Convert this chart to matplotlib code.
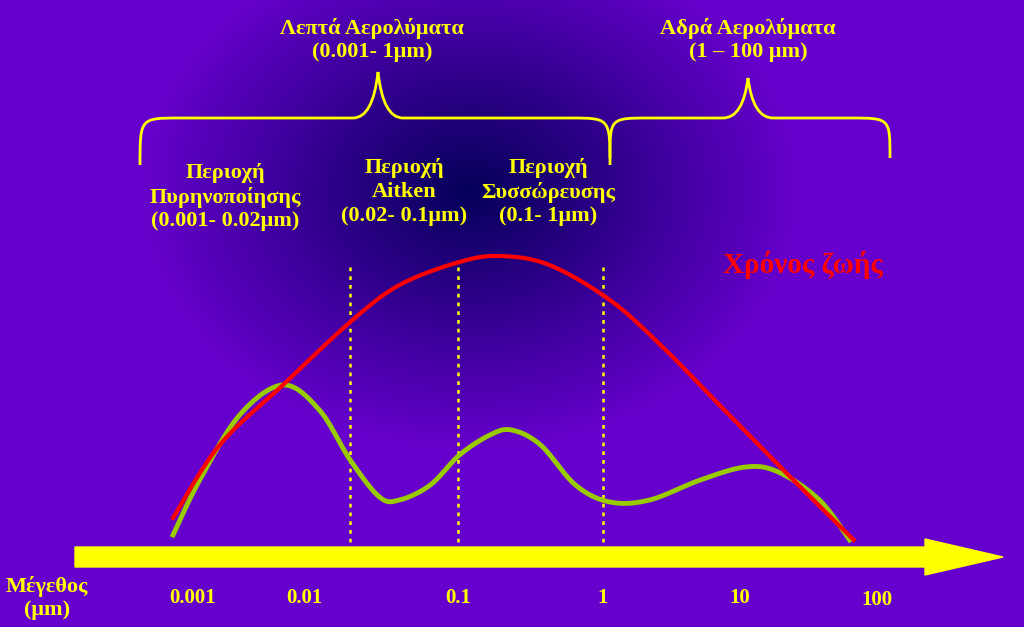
import numpy as np
import matplotlib
matplotlib.use("Agg")
import matplotlib.pyplot as plt
from matplotlib.path import Path
from matplotlib.patches import PathPatch, FancyArrow

# ---- data ----
tick_sizes = [0.001, 0.01, 0.1, 1, 10, 100]
tick_labels = ["0.001", "0.01", "0.1", "1", "10", "100"]
tick_px = [193, 304, 458, 603, 740, 877]
boundaries = [0.02, 0.1, 1]
green_logsize = [-3.18, -2.94, -2.58, -2.19, -1.90, -1.70, -1.51, -1.38, -1.18, -0.99, -0.78, -0.63,
                 -0.43, -0.19, 0.05, 0.34, 0.71, 1.04, 1.28, 1.58, 1.80]
green_level = [535, 480, 415, 385, 410, 460, 497, 500, 485, 455, 435, 430, 445, 485, 502, 500, 480,
               467, 472, 500, 540]
red_logsize = [-3.18, -2.76, -2.19, -1.70, -1.38, -0.99, -0.71, -0.37, 0.05, 0.42, 0.85, 1.28, 1.83]
red_level = [518, 445, 385, 322, 285, 262, 256, 265, 300, 345, 405, 465, 540]

def xmap(logs):
    return np.interp(logs, np.log10(tick_sizes), tick_px)

def xmap_ext(logs):
    logs = np.asarray(logs, float)
    lt = np.log10(tick_sizes)
    x = np.interp(logs, lt, tick_px)
    lo = logs < lt[0]; hi = logs > lt[-1]
    x[lo] = tick_px[0] + (logs[lo] - lt[0]) * (tick_px[1] - tick_px[0])
    x[hi] = tick_px[-1] + (logs[hi] - lt[-1]) * (tick_px[-1] - tick_px[-2])
    return x

def catmull(xs, ys, n=20):
    P = np.column_stack([xs, ys])
    P = np.vstack([P[0], P, P[-1]])
    out = []
    t = np.linspace(0, 1, n, endpoint=False)[:, None]
    for i in range(1, len(P) - 2):
        p0, p1, p2, p3 = P[i-1], P[i], P[i+1], P[i+2]
        out.append(0.5 * ((2*p1) + (-p0+p2)*t + (2*p0-5*p1+4*p2-p3)*t**2 + (-p0+3*p1-3*p2+p3)*t**3))
    out.append(P[-2][None])
    o = np.vstack(out)
    return o[:, 0], o[:, 1]

fig = plt.figure(figsize=(10.24, 6.27), dpi=100)
ax = fig.add_axes([0, 0, 1, 1])
ax.set_xlim(0, 1024); ax.set_ylim(627, 0); ax.axis("off")

# background gradient
yy, xx = np.mgrid[0:627, 0:1024]
d = np.sqrt(((xx - 470) / 330.0) ** 2 + ((yy - 190) / 260.0) ** 2)
t = np.clip(d, 0, 1)[..., None]
c_in = np.array([0.02, 0.0, 0.35]); c_out = np.array([0.40, 0.0, 0.80])
img = c_in * (1 - t) + c_out * t
ax.imshow(img, extent=[0, 1024, 627, 0], aspect="auto", zorder=0)

Y = "#FFFF00"
serif = "Liberation Serif"

# arrow
ax.add_patch(FancyArrow(75, 557, 928, 0, width=20, head_width=36, head_length=78,
                        length_includes_head=True, color=Y, zorder=3))

# boundaries
for b in boundaries:
    x = xmap(np.log10(b))
    ax.plot([x, x], [267, 547], color=Y, lw=1.8, ls=(0, (1.5, 2)), zorder=2)

# curves
gx, gy = catmull(xmap_ext(green_logsize), green_level)
ax.plot(gx, gy, color="#99CC00", lw=3.5, zorder=4)
rx, ry = catmull(xmap_ext(red_logsize), red_level)
ax.plot(rx, ry, color="#FF0000", lw=3, zorder=5)

# braces
def brace(x0, x1, xm, ytop, ytip, yend):
    verts = [(x0, yend), (x0, ytop), (x0, ytop), (x0 + 40, ytop),
             (xm - 25, ytop), (xm - 5, ytop), (xm, ytip),
             (xm + 5, ytop), (xm + 25, ytop), (x1 - 40, ytop),
             (x1, ytop), (x1, ytop), (x1, yend)]
    codes = [Path.MOVETO, Path.CURVE4, Path.CURVE4, Path.CURVE4,
             Path.LINETO, Path.CURVE3, Path.CURVE3, Path.CURVE3, Path.CURVE3,
             Path.LINETO, Path.CURVE4, Path.CURVE4, Path.CURVE4]
    ax.add_patch(PathPatch(Path(verts, codes), fill=False, ec=Y, lw=2, zorder=3))
brace(140, 610, 378, 118, 72, 165)
brace(610, 890, 748, 118, 78, 158)

def txt(x, y, s, size=16, color=Y, ha="center"):
    ax.text(x, y, s, color=color, fontsize=size, fontfamily=serif, fontweight="bold",
            ha=ha, va="center", zorder=6, linespacing=1.25)

txt(372, 40, "Λεπτά Αερολύματα\n(0.001- 1μm)")
txt(748, 40, "Αδρά Αερολύματα\n(1 – 100 μm)")
txt(225, 197, "Περιοχή\nΠυρηνοποίησης\n(0.001- 0.02μm)")
txt(404, 192, "Περιοχή\nAitken\n(0.02- 0.1μm)")
txt(548, 192, "Περιοχή\nΣυσσώρευσης\n(0.1- 1μm)")
txt(803, 265, "Χρόνος ζωής", size=21, color="#FF0000")
txt(47, 598, "Μέγεθος\n(μm)", size=16)
for x, lab in zip(tick_px, tick_labels):
    txt(x, 598 if lab != "100" else 600, lab, size=15)

fig.savefig("out.png", dpi=100)
